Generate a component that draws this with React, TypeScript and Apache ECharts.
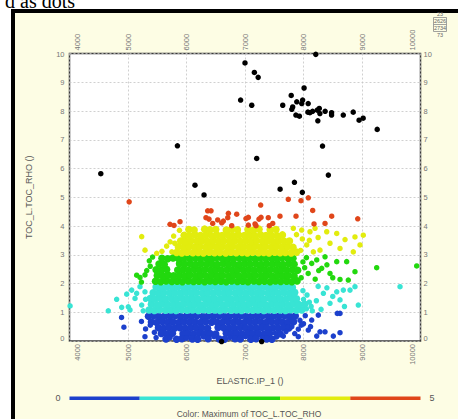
import React, { useEffect, useRef } from "react";
import * as echarts from "echarts";

// ---------- data ----------
const xTickValues = [4000, 5000, 6000, 7000, 8000, 9000, 10000];
const xTickLabels = ["4000", "5000", "6000", "7000", "8000", "9000", "10000"];
const yTickValues = [0, 1, 2, 3, 4, 5, 6, 7, 8, 9, 10];
const yTickLabels = ["0", "1", "2", "3", "4", "5", "6", "7", "8", "9", "10"];

const bandEdges = [0, 1, 2, 3, 4, 5];
const bandColors = ["#1c40cc", "#38e4d4", "#22d80e", "#e2ec0e", "#e0461a"];
const outColor = "#000000";

const blueCore = [
  [5350,0.86],[5440,0.88],[5530,0.85],[5630,0.87],[5720,0.86],[5810,0.88],[5900,0.85],[6000,0.87],[6090,0.86],[6180,0.88],[6280,0.85],[6370,0.87],[6460,0.86],[6560,0.88],[6650,0.85],[6740,0.87],[6840,0.86],[6930,0.88],[7020,0.85],[7120,0.87],[7210,0.86],[7300,0.88],[7400,0.85],[7490,0.87],[7580,0.86],[7680,0.88],[7770,0.85],[7860,0.87],
  [5400,0.66],[5490,0.64],[5590,0.67],[5680,0.65],[5770,0.66],[5870,0.64],[5960,0.67],[6050,0.65],[6150,0.66],[6240,0.64],[6330,0.67],[6430,0.65],[6520,0.66],[6610,0.64],[6710,0.67],[6800,0.65],[6890,0.66],[6990,0.64],[7080,0.67],[7170,0.65],[7270,0.66],[7360,0.64],[7450,0.67],[7550,0.65],[7640,0.66],[7730,0.64],[7830,0.67],
  [5520,0.46],[5610,0.44],[5700,0.47],[5800,0.45],[5890,0.46],[5980,0.44],[6080,0.47],[6170,0.45],[6260,0.46],[6360,0.44],[6540,0.47],[6640,0.45],[6730,0.46],[6820,0.44],[6920,0.47],[7010,0.45],[7100,0.46],[7200,0.44],[7290,0.47],[7380,0.45],[7480,0.46],[7570,0.44],[7660,0.47],[7750,0.45],
  [5570,0.26],[5670,0.24],[5760,0.27],[5940,0.25],[6030,0.26],[6120,0.24],[6220,0.27],[6310,0.25],[6400,0.26],[6500,0.24],[6680,0.27],[6770,0.25],[6860,0.26],[6950,0.24],[7050,0.27],[7140,0.25],[7230,0.26],[7330,0.24],[7420,0.27],[7600,0.25],
  [5650,0.07],[5830,0.06],[5920,0.08],[6100,0.07],[6190,0.06],[6370,0.08],[6560,0.07],[6650,0.06],[6830,0.08],[6920,0.07],[7100,0.06],[7190,0.08],[7370,0.07],[7460,0.06],
];
const blueScatter = [
  [4890,0.82],[4930,0.48],[5290,0.15],[5230,0.68],[5300,0.42],[5450,0.3],[5480,0.12],[5380,0.55],[5720,0.12],[6000,0.1],[6290,0.14],[6470,0.15],[6740,0.12],[7010,0.15],[7290,0.12],[7540,0.14],[7655,0.17],[7513,0.27],[7700,0.33],[7911,0.15],[7911,0.41],[7940,0.72],[8000,0.6],[7960,0.55],[8140,0.73],[8253,0.9],[8082,0.38],[8282,0.32],[8368,0.32],[8510,0.17],[8226,0.17],[8624,0.29],[8624,0.96],[8578,0.96],[8030,0.88],[8120,0.5],[7850,0.26],[7800,0.5],
];
const cyanCore = [
  [5360,1.08],[5450,1.06],[5540,1.09],[5640,1.07],[5730,1.08],[5820,1.06],[5920,1.09],[6010,1.07],[6100,1.08],[6200,1.06],[6290,1.09],[6380,1.07],[6480,1.08],[6570,1.06],[6660,1.09],[6760,1.07],[6850,1.08],[6940,1.06],[7040,1.09],[7130,1.07],[7220,1.08],[7320,1.06],[7410,1.09],[7500,1.07],[7600,1.08],[7690,1.06],[7780,1.09],[7880,1.07],[7970,1.08],
  [5400,1.28],[5500,1.26],[5590,1.29],[5680,1.27],[5780,1.28],[5870,1.26],[5960,1.29],[6060,1.27],[6150,1.28],[6240,1.26],[6340,1.29],[6430,1.27],[6520,1.28],[6620,1.26],[6710,1.29],[6800,1.27],[6900,1.28],[6990,1.26],[7080,1.29],[7180,1.27],[7270,1.28],[7360,1.26],[7460,1.29],[7550,1.27],[7640,1.28],[7740,1.26],[7830,1.29],[7920,1.27],[8020,1.28],
  [5380,1.48],[5460,1.46],[5550,1.49],[5640,1.47],[5740,1.48],[5830,1.46],[5920,1.49],[6020,1.47],[6110,1.48],[6200,1.46],[6300,1.49],[6390,1.47],[6480,1.48],[6580,1.46],[6670,1.49],[6760,1.47],[6860,1.48],[6950,1.46],[7040,1.49],[7140,1.47],[7230,1.48],[7320,1.46],[7420,1.49],[7510,1.47],[7600,1.48],[7700,1.46],[7790,1.49],[7880,1.47],
  [5430,1.68],[5520,1.66],[5610,1.69],[5710,1.67],[5800,1.68],[5890,1.66],[5990,1.69],[6080,1.67],[6170,1.68],[6270,1.66],[6360,1.69],[6450,1.67],[6550,1.68],[6640,1.66],[6730,1.69],[6830,1.67],[6920,1.68],[7010,1.66],[7110,1.69],[7200,1.67],[7290,1.68],[7390,1.66],[7480,1.69],[7570,1.67],[7670,1.68],[7760,1.66],[7850,1.69],
  [5480,1.88],[5570,1.86],[5670,1.89],[5760,1.87],[5850,1.88],[5950,1.86],[6040,1.89],[6130,1.87],[6230,1.88],[6320,1.86],[6410,1.89],[6510,1.87],[6600,1.88],[6690,1.86],[6790,1.89],[6880,1.87],[6970,1.88],[7070,1.86],[7160,1.89],[7250,1.87],[7350,1.88],[7440,1.86],[7530,1.89],[7630,1.87],[7720,1.88],[7810,1.86],
];
const cyanScatter = [
  [4010,1.22],[4663,1.05],[4806,1.45],[4892,1.17],[4978,1.63],[5063,1.77],[5120,1.48],[5005,1.19],[5205,1.89],[5290,1.71],[5234,1.25],[5034,1.08],[5148,1.66],[5300,1.45],[5260,1.05],
  [8050,1.12],[8130,1.2],[8100,1.35],[8000,1.45],[8060,1.6],[8150,1.05],[8220,1.4],[7990,1.75],[8568,1.71],[8681,1.77],[8795,1.77],[8880,1.89],[8937,1.25],[8624,1.43],[8453,1.31],[8340,1.66],[8300,1.1],[8400,1.85],[8250,1.9],[8500,1.55],[8700,1.2],[9650,1.89],
];
const greenCore = [
  [5470,2.08],[5560,2.06],[5650,2.09],[5750,2.07],[5840,2.08],[5930,2.06],[6030,2.09],[6120,2.07],[6210,2.08],[6310,2.06],[6400,2.09],[6490,2.07],[6590,2.08],[6680,2.06],[6770,2.09],[6870,2.07],[6960,2.08],[7050,2.06],[7150,2.09],[7240,2.07],[7330,2.08],[7430,2.06],[7520,2.09],[7610,2.07],[7710,2.08],[7800,2.06],[7890,2.09],
  [5500,2.28],[5600,2.26],[5690,2.29],[5780,2.27],[5880,2.28],[5970,2.26],[6060,2.29],[6160,2.27],[6250,2.28],[6340,2.26],[6440,2.29],[6530,2.27],[6620,2.28],[6720,2.26],[6810,2.29],[6900,2.27],[7000,2.28],[7090,2.26],[7180,2.29],[7280,2.27],[7370,2.28],[7460,2.26],[7560,2.29],[7650,2.27],[7740,2.28],[7840,2.26],
  [5480,2.48],[5570,2.46],[5660,2.49],[5850,2.47],[5940,2.48],[6030,2.46],[6130,2.49],[6220,2.47],[6310,2.48],[6410,2.46],[6500,2.49],[6590,2.47],[6690,2.48],[6780,2.46],[6870,2.49],[6970,2.47],[7060,2.48],[7150,2.46],[7250,2.49],[7340,2.47],[7430,2.48],[7530,2.46],[7620,2.49],[7710,2.47],[7810,2.48],[7900,2.46],
  [5530,2.68],[5620,2.66],[5880,2.69],[5970,2.67],[6070,2.68],[6160,2.66],[6250,2.69],[6350,2.67],[6440,2.68],[6530,2.66],[6630,2.69],[6720,2.67],[6810,2.68],[6910,2.66],[7000,2.69],[7090,2.67],[7190,2.68],[7280,2.66],[7370,2.69],[7470,2.67],[7560,2.68],[7650,2.66],[7750,2.69],[7840,2.67],
  [5580,2.88],[5680,2.86],[5770,2.89],[5860,2.87],[5950,2.88],[6050,2.86],[6140,2.89],[6230,2.87],[6330,2.88],[6420,2.86],[6510,2.89],[6610,2.87],[6700,2.88],[6790,2.86],[6890,2.89],[6980,2.87],[7070,2.88],[7170,2.86],[7260,2.89],[7350,2.87],[7450,2.88],[7540,2.86],[7630,2.89],[7730,2.87],[7820,2.88],
];
const greenScatter = [
  [5148,2.29],[5205,2.21],[5290,2.3],[5364,2.79],[5380,2.6],[5420,2.92],[5320,2.45],[5230,2.05],
  [7960,2.2],[8020,2.55],[8080,2.35],[8140,2.7],[8200,2.15],[8050,2.9],[7990,2.75],[8260,2.45],[8226,2.82],[8368,2.93],[8568,2.76],[8738,2.76],[8880,2.41],[8766,2.12],[8624,2.14],[8453,2.35],[8311,2.53],[8400,2.65],[8500,2.2],[9251,2.55],[9935,2.61],
];
const yellowCore = [
  [5830,3.08],[5920,3.06],[6010,3.09],[6110,3.07],[6200,3.08],[6290,3.06],[6390,3.09],[6480,3.07],[6570,3.08],[6670,3.06],[6760,3.09],[6850,3.07],[6950,3.08],[7040,3.06],[7130,3.09],[7230,3.07],[7320,3.08],[7410,3.06],[7510,3.09],[7600,3.07],[7690,3.08],[7790,3.06],[7880,3.09],
  [5860,3.28],[5950,3.26],[6050,3.29],[6140,3.27],[6230,3.28],[6330,3.26],[6420,3.29],[6510,3.27],[6610,3.28],[6700,3.26],[6790,3.29],[6890,3.27],[6980,3.28],[7070,3.26],[7170,3.29],[7260,3.27],[7350,3.28],[7450,3.26],[7540,3.29],[7630,3.27],[7730,3.28],[7820,3.26],
  [5900,3.48],[5990,3.46],[6080,3.49],[6180,3.47],[6270,3.48],[6360,3.46],[6460,3.49],[6550,3.47],[6640,3.48],[6740,3.46],[6830,3.49],[6920,3.47],[7020,3.48],[7110,3.46],[7200,3.49],[7300,3.47],[7390,3.48],[7480,3.46],[7580,3.49],[7670,3.47],[7760,3.48],
  [5960,3.68],[6050,3.66],[6150,3.69],[6240,3.67],[6330,3.68],[6430,3.66],[6520,3.69],[6610,3.67],[6710,3.68],[6800,3.66],[6890,3.69],[6990,3.67],[7080,3.68],[7170,3.66],[7270,3.69],[7360,3.67],[7450,3.68],[7550,3.66],[7640,3.69],
  [6040,3.88],[6130,3.86],[6310,3.89],[6400,3.87],[6500,3.88],[6680,3.86],[6770,3.89],[6870,3.87],[7050,3.88],[7150,3.86],[7240,3.89],[7430,3.87],[7530,3.88],
];
const yellowScatter = [
  [5234,3.63],[5291,3.16],[5490,3.05],[5580,3.12],[5660,3.3],[5720,3.45],[5780,3.65],[5880,3.85],[5750,3.1],[5800,3.4],
  [7826,3.92],[7969,3.86],[8111,3.8],[8197,3.92],[8397,3.8],[8568,3.74],[8710,3.53],[8880,3.62],[9022,3.68],[8966,3.34],[8851,3.1],[8624,3.22],[8453,3.4],[8282,3.16],[8168,3.1],[8055,3.34],[7980,3.55],[7950,3.15],[8100,3.5],[8250,3.6],[7880,3.7],
];
const redPoints = [
  [5020,4.84],[5718,4.06],[5786,4.02],[5889,4.15],[6362,4.53],[6419,4.53],[6333,4.29],[6385,4.24],[6448,4.09],[6533,4.21],[6602,4.11],[6630,4.17],[6705,4.29],[6716,4.44],[6773,4.01],[6858,4.41],[7017,4.26],[7057,4.3],[7057,4.03],[7171,4.07],[7188,4.01],[7239,4.24],[7274,4.3],[7268,4.73],[7398,4.29],[7415,4.01],[7474,4.09],[7598,4.34],[7740,4.93],[7872,4.34],[7957,4.88],[8082,4.98],[8157,4.54],[8180,4.07],[8368,4.09],[8482,4.34],[8927,4.25],
];
const blackPoints = [
  [8210,9.97],[7000,9.67],[7160,9.34],[7225,9.17],[8010,8.8],[7790,8.54],[6925,8.38],[7115,8.2],[7645,8.2],[7885,8.32],[7985,8.38],[7970,8.26],[8080,8.26],[7815,8.14],[7800,8.06],[7870,7.86],[7930,7.82],[8110,7.94],[8155,7.99],[8075,7.96],[8235,8.03],[8270,8.09],[8280,7.91],[8370,7.99],[8480,7.94],[8480,7.86],[8245,7.66],[8680,7.86],[8850,7.96],[8950,7.68],[9020,7.75],[9260,7.36],
  [8325,6.78],[4535,5.82],[5845,6.79],[6145,5.42],[6300,5.08],[7200,6.35],[7600,5.28],[7845,5.52],[7980,5.17],[8425,5.77],
  [6600,-0.02],[7285,-0.02],
];
const xAxisTitle = "ELASTIC.IP_1 ()";
const yAxisTitle = "TOC_L.TOC_RHO ()";
const colorTitle = "Color: Maximum of TOC_L.TOC_RHO";
const statsTexts = ["23", "2626", "2734", "73"];

// ---------- chart ----------
const SANS = "Liberation Sans, Arial, Helvetica, sans-serif";
const LABEL_COLOR = "#777";

function xFmt(v: number) {
  const i = xTickValues.indexOf(v);
  const s = i >= 0 ? xTickLabels[i] : "";
  if (i === 0) return `{first|${s}}`;
  if (i === xTickValues.length - 1) return `{last|${s}}`;
  return `{mid|${s}}`;
}
function yFmt(v: number) {
  const i = yTickValues.indexOf(v);
  const s = i >= 0 ? yTickLabels[i] : "";
  if (i === 0) return `{first|${s}}`;
  if (i === yTickValues.length - 1) return `{last|${s}}`;
  return `{mid|${s}}`;
}
const labelBase = { fontSize: 7.5, color: LABEL_COLOR, fontFamily: SANS };
const xRich = {
  first: { ...labelBase, padding: [16, 0, 0, 0] },
  last: { ...labelBase, padding: [0, 0, 16, 0] },
  mid: { ...labelBase },
};
const yRich = {
  first: { ...labelBase, padding: [0, 0, 6, 0] },
  last: { ...labelBase, padding: [2, 0, 0, 0] },
  mid: { ...labelBase },
};

export default function App() {
  const ref = useRef<HTMLDivElement>(null);
  useEffect(() => {
    if (!ref.current) return;
    const chart = echarts.init(ref.current, null, { renderer: "svg" });

    const xCommon = {
      type: "value" as const,
      gridIndex: 0,
      min: xTickValues[0],
      max: xTickValues[xTickValues.length - 1],
      interval: 1000,
      axisTick: { show: false },
      axisLine: { show: false },
    };
    const yCommon = {
      type: "value" as const,
      gridIndex: 0,
      min: yTickValues[0],
      max: yTickValues[yTickValues.length - 1],
      interval: 1,
      axisTick: { show: false },
      axisLine: { show: false },
    };

    const scatterDefs = [
      { name: "blueCore", data: blueCore, size: 7.5 },
      { name: "cyanCore", data: cyanCore, size: 7.5 },
      { name: "greenCore", data: greenCore, size: 7.5 },
      { name: "yellowCore", data: yellowCore, size: 7.5 },
      { name: "blueScatter", data: blueScatter, size: 5.5 },
      { name: "cyanScatter", data: cyanScatter, size: 5.5 },
      { name: "greenScatter", data: greenScatter, size: 5.5 },
      { name: "yellowScatter", data: yellowScatter, size: 5.5 },
      { name: "red", data: redPoints, size: 5.5 },
      { name: "black", data: blackPoints, size: 5.5 },
    ];
    const scatterSeries = scatterDefs.map((d) => ({
      type: "scatter",
      name: d.name,
      xAxisIndex: 0,
      yAxisIndex: 0,
      data: d.data,
      symbol: "circle",
      symbolSize: d.size,
      itemStyle: { opacity: 1 },
      clip: false,
      silent: true,
    }));
    const barSeries = bandColors.map((c, i) => ({
      type: "bar",
      xAxisIndex: 2,
      yAxisIndex: 2,
      stack: "cb",
      barWidth: "100%",
      silent: true,
      itemStyle: { color: c },
      data: [bandEdges[i + 1] - bandEdges[i]],
    }));

    const pieces: any[] = [{ lt: bandEdges[0], color: outColor }];
    bandColors.forEach((c, i) => pieces.push({ gte: bandEdges[i], lt: bandEdges[i + 1], color: c }));
    pieces.push({ gte: bandEdges[bandEdges.length - 1], color: outColor });

    chart.setOption({
      animation: false,
      backgroundColor: "#fdfde4",
      textStyle: { fontFamily: SANS },
      graphic: [
        { type: "rect", shape: { x: 0, y: 0, width: 458, height: 9 }, style: { fill: "#ffffff" } },
        { type: "rect", shape: { x: 0, y: 0, width: 11, height: 419 }, style: { fill: "#ffffff" } },
        { type: "rect", shape: { x: 11, y: 9, width: 447, height: 4 }, style: { fill: "#000000" } },
        { type: "rect", shape: { x: 11, y: 9, width: 4, height: 410 }, style: { fill: "#000000" } },
        {
          type: "text", x: 5, y: 0.5,
          style: { text: "d as dots", font: "20px 'Liberation Serif', 'Times New Roman', serif", fill: "#000", verticalAlign: "middle" },
        },
        { type: "rect", shape: { x: 433.5, y: 17.5, width: 13, height: 14 }, style: { fill: "none", stroke: "#8a8a8a", lineWidth: 0.8 } },
        { type: "line", shape: { x1: 433.5, y1: 24.5, x2: 446.5, y2: 24.5 }, style: { stroke: "#8a8a8a", lineWidth: 0.8 } },
        { type: "text", x: 440, y: 14, style: { text: statsTexts[0], fontSize: 5.5, fill: "#666", align: "center", verticalAlign: "middle", fontFamily: SANS } },
        { type: "text", x: 440, y: 21, style: { text: statsTexts[1], fontSize: 5.5, fill: "#666", align: "center", verticalAlign: "middle", fontFamily: SANS } },
        { type: "text", x: 440, y: 28, style: { text: statsTexts[2], fontSize: 5.5, fill: "#666", align: "center", verticalAlign: "middle", fontFamily: SANS } },
        { type: "text", x: 440, y: 35, style: { text: statsTexts[3], fontSize: 5.5, fill: "#666", align: "center", verticalAlign: "middle", fontFamily: SANS } },
      ],
      grid: [
        { left: 69.5, top: 53.5, width: 351, height: 287.5, show: true, backgroundColor: "#ffffff", borderColor: "#3a3a3a", borderWidth: 1.5 },
        { left: 69.5, top: 396.5, width: 351, height: 4.5 },
      ],
      xAxis: [
        {
          ...xCommon,
          position: "bottom",
          name: xAxisTitle,
          nameLocation: "middle",
          nameGap: 35,
          nameTextStyle: { fontSize: 9, color: "#555", fontFamily: SANS, padding: [0, 0, 0, 10] },
          splitLine: { show: true, lineStyle: { color: "#c4c4c4", type: [2, 2], width: 0.8 } },
          axisLabel: { rotate: 90, margin: 3, interval: 0, formatter: xFmt, rich: xRich, ...labelBase },
        },
        {
          ...xCommon,
          position: "top",
          splitLine: { show: false },
          axisLabel: { rotate: 90, margin: 3, interval: 0, formatter: xFmt, rich: xRich, ...labelBase },
        },
        {
          type: "value", gridIndex: 1, min: bandEdges[0], max: bandEdges[bandEdges.length - 1],
          axisLabel: { show: false }, axisTick: { show: false }, axisLine: { show: false }, splitLine: { show: false },
          name: colorTitle, nameLocation: "middle", nameGap: 9,
          nameTextStyle: { fontSize: 8.5, color: "#555", fontFamily: SANS, padding: [0, 0, 0, 8] },
        },
      ],
      yAxis: [
        {
          ...yCommon,
          position: "left",
          name: yAxisTitle,
          nameLocation: "middle",
          nameGap: 36,
          nameTextStyle: { fontSize: 9, color: "#555", fontFamily: SANS },
          splitLine: { show: true, lineStyle: { color: "#c4c4c4", type: [2, 2], width: 0.8 } },
          axisLabel: { margin: 5, formatter: yFmt, rich: yRich, ...labelBase },
        },
        {
          ...yCommon,
          position: "right",
          splitLine: { show: false },
          axisLabel: { margin: 3, formatter: yFmt, rich: yRich, ...labelBase },
        },
        {
          type: "category", gridIndex: 1, position: "left", data: [String(bandEdges[0])],
          axisLine: { show: false }, axisTick: { show: false },
          axisLabel: { margin: 9, fontSize: 9, color: "#555", fontFamily: SANS },
        },
        {
          type: "category", gridIndex: 1, position: "right", data: [String(bandEdges[bandEdges.length - 1])],
          axisLine: { show: false }, axisTick: { show: false },
          axisLabel: { margin: 9, fontSize: 9, color: "#555", fontFamily: SANS },
        },
      ],
      visualMap: {
        type: "piecewise",
        show: false,
        dimension: 1,
        seriesIndex: scatterSeries.map((_, i) => i),
        pieces,
      },
      series: [...scatterSeries, ...barSeries],
    });

    return () => chart.dispose();
  }, []);

  return <div ref={ref} style={{ position: "fixed", left: 0, top: 0, width: 458, height: 419 }} />;
}
